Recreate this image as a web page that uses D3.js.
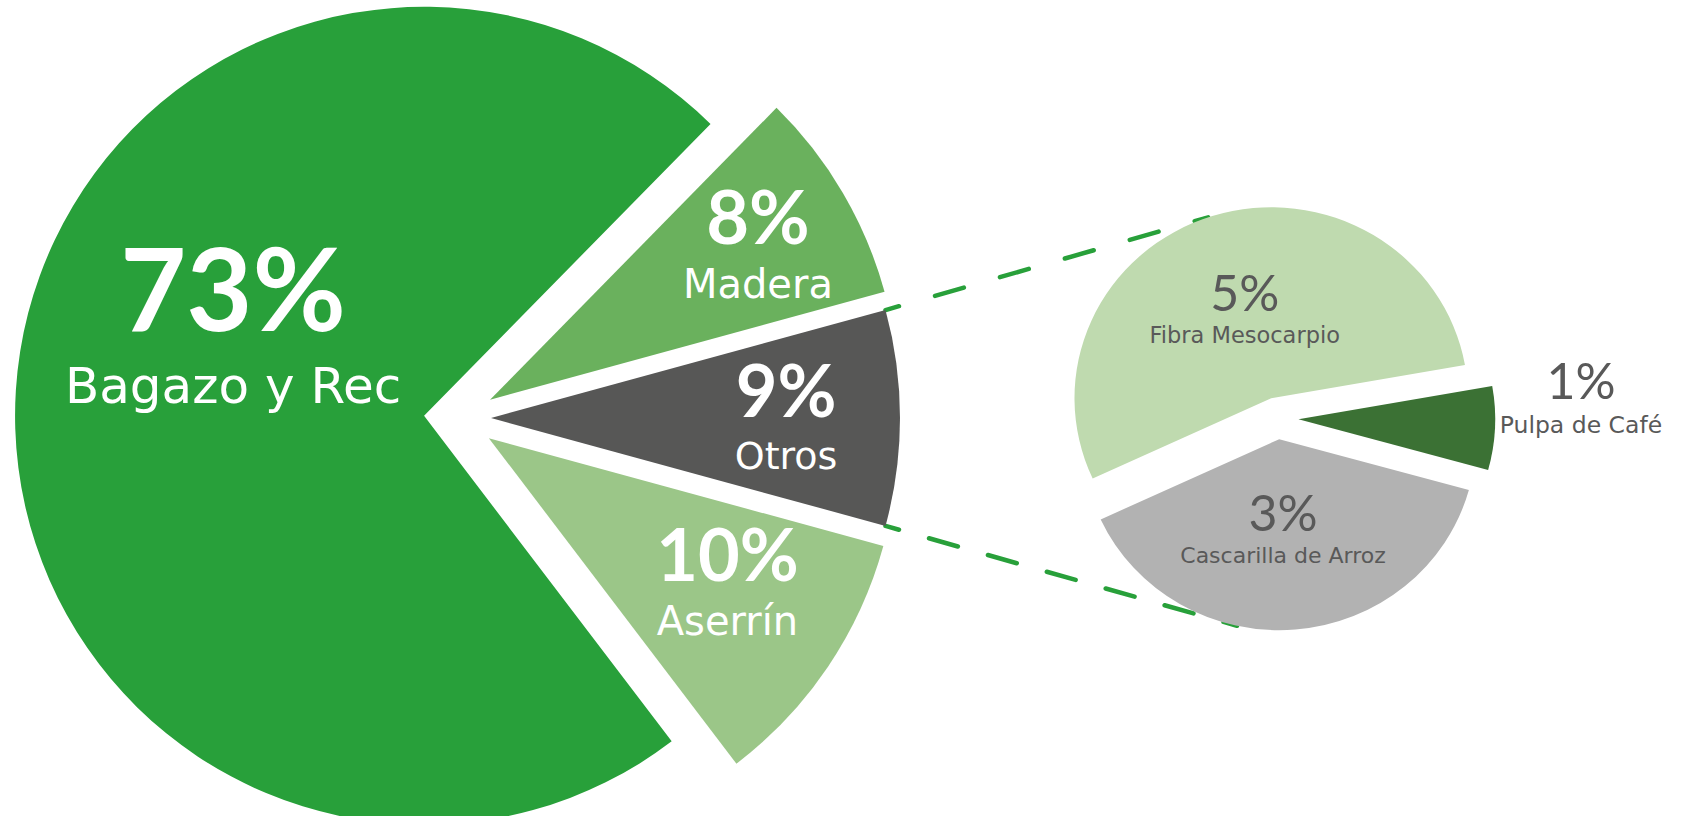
<!DOCTYPE html>
<html>
<head>
<meta charset="utf-8">
<script src="https://cdn.jsdelivr.net/npm/d3@7"></script>
<style>
  html, body { margin: 0; padding: 0; background: #ffffff; }
  svg { display: block; }
</style>
</head>
<body>
<svg id="chart"></svg>
<script>
// ---------------- data ----------------
const mainCategories = ["Madera", "Otros", "Aserrín", "Bagazo y Rec"];
const mainValues     = [8.4, 8.5, 10.4, 72.7];           // percent of total
const otherCategory  = "Otros";                          // slice broken out in the second pie

const subCategories  = ["Pulpa de Café", "Cascarilla de Arroz", "Fibra Mesocarpio"];
const subValues      = [0.6, 3.3, 4.6];                  // percent of total (sum = Otros)

// ---------------- styles / layout ----------------
const mainColors = ["#6ab15d", "#575756", "#9bc688", "#28a03a"];
const subColors  = ["#3b7134", "#b2b2b2", "#bfdaaf"];
const lineColor  = "#28a03a";

const W = 1684, H = 816;
const deg = Math.PI / 180;

const mainGeom = { cx: 459, cy: 418, r: 409, xScale: 1, explode: [36, 32, 36, 35], centerDeg: 90 };
const subGeom  = { cx: 1277.5, cy: 418.3, r: 191, xScale: 1.03, explode: [21, 21, 21], centerDeg: 92.7 };
// where the dashed connectors meet the second pie (angle on the top / bottom slice)
const connectorEndDeg = { top: 341.3, bottom: 192.4 };
const dash = { len: 30, gap: 36, endPart: 14, width: 4.5 };

// label block centre: [angle offset from slice middle (deg), distance as fraction of radius]
const mainLabelPlace = [[4.7, 0.727], [4.8, 0.724], [1.4, 0.716], [10.7, 0.482]];
const subLabelPlace  = [[-3.35, 1.479], [2.7, 0.567], [-3.1, 0.396]];
const mainPctSize  = [74, 72, 72, 114];
const mainNameSize = [40, 38, 40, 50];
const mainGap      = [54, 52, 54, 72];
const subPctSize   = [50, 50, 50];
const subNameSize  = [23.5, 22, 22.5];
const subGap       = [34, 32, 32];

const svg = d3.select("#chart").attr("width", W).attr("height", H);

function layout(values, centerIndex, centerDeg) {
  const total = d3.sum(values);
  const before = d3.sum(values.slice(0, centerIndex)) + values[centerIndex] / 2;
  const start = centerDeg * deg - before / total * 2 * Math.PI;
  return d3.pie().sort(null).startAngle(start).endAngle(start + 2 * Math.PI)(values);
}
function polar(c, a, d, sx = 1) { return [c[0] + sx * d * Math.sin(a), c[1] - d * Math.cos(a)]; }
function mid(s) { return (s.startAngle + s.endAngle) / 2; }

const otherIdx = mainCategories.indexOf(otherCategory);
const mainArcs = layout(mainValues, otherIdx, mainGeom.centerDeg);
const subArcs  = layout(subValues, 0, subGeom.centerDeg);

const mainApex = mainArcs.map((s, i) => polar([mainGeom.cx, mainGeom.cy], mid(s), mainGeom.explode[i]));
const subApex  = subArcs.map((s, i) => polar([subGeom.cx, subGeom.cy], mid(s), subGeom.explode[i]));

// ---------------- connector lines ----------------
function sliceContaining(arcs, a) {
  const TWO = 2 * Math.PI;
  return arcs.findIndex(s => {
    let x = a;
    while (x < s.startAngle) x += TWO;
    while (x > s.startAngle + TWO) x -= TWO;
    return x >= s.startAngle && x <= s.endAngle;
  });
}
const oArc = mainArcs[otherIdx];
const oStart = polar(mainApex[otherIdx], oArc.startAngle, mainGeom.r);
const oEnd   = polar(mainApex[otherIdx], oArc.endAngle, mainGeom.r);
const topIdx = sliceContaining(subArcs, 0);
const botIdx = sliceContaining(subArcs, Math.PI);
const eTop = polar(subApex[topIdx], connectorEndDeg.top * deg, subGeom.r, subGeom.xScale);
const eBot = polar(subApex[botIdx], connectorEndDeg.bottom * deg, subGeom.r, subGeom.xScale);

const lines = svg.append("g").attr("class", "connectors");
[[oStart, eTop], [oEnd, eBot]].forEach(seg => {
  const L = Math.hypot(seg[1][0] - seg[0][0], seg[1][1] - seg[0][1]);
  // short dash at both ends, full dashes between, gaps stretched to fit
  const p = dash.endPart, d = dash.len;
  const n = Math.max(1, Math.round((L - 2 * p + d) / (d + dash.gap)));
  const g = (L - 2 * p - (n - 1) * d) / n;
  lines.append("line")
    .attr("x1", seg[0][0]).attr("y1", seg[0][1])
    .attr("x2", seg[1][0]).attr("y2", seg[1][1])
    .attr("stroke", lineColor)
    .attr("stroke-width", dash.width)
    .attr("stroke-linecap", "round")
    .attr("stroke-dasharray", `${d} ${g}`)
    .attr("stroke-dashoffset", d - p);
});

// ---------------- pies ----------------
const mainArcGen = d3.arc().innerRadius(0).outerRadius(mainGeom.r);
const subArcGen  = d3.arc().innerRadius(0).outerRadius(subGeom.r);

svg.append("g").attr("class", "main-pie")
  .selectAll("path").data(mainArcs).join("path")
  .attr("transform", (d, i) => `translate(${mainApex[i][0]},${mainApex[i][1]}) scale(${mainGeom.xScale},1)`)
  .attr("d", mainArcGen)
  .attr("fill", (d, i) => mainColors[i]);

svg.append("g").attr("class", "sub-pie")
  .selectAll("path").data(subArcs).join("path")
  .attr("transform", (d, i) => `translate(${subApex[i][0]},${subApex[i][1]}) scale(${subGeom.xScale},1)`)
  .attr("d", subArcGen)
  .attr("fill", (d, i) => subColors[i]);

// ---------------- labels (percentage above, name below) ----------------
const pctText = v => Math.round(v) + "%";

function addLabel(g, p, pct, name, pctSize, nameSize, gap, pctWeight) {
  g.append("text")
    .attr("x", p[0]).attr("y", p[1] - gap / 2)
    .attr("font-family", "Lato, 'Open Sans', sans-serif")
    .attr("font-weight", pctWeight)
    .attr("font-size", pctSize)
    .text(pct);
  g.append("text")
    .attr("x", p[0]).attr("y", p[1] + gap / 2)
    .attr("font-family", "'DejaVu Sans', sans-serif")
    .attr("font-size", nameSize)
    .text(name);
}

const mainLabels = svg.append("g").attr("class", "main-labels")
  .attr("text-anchor", "middle").attr("fill", "#ffffff");
mainArcs.forEach((s, i) => {
  const p = polar(mainApex[i], mid(s) + mainLabelPlace[i][0] * deg, mainLabelPlace[i][1] * mainGeom.r);
  addLabel(mainLabels, p, pctText(mainValues[i]), mainCategories[i],
           mainPctSize[i], mainNameSize[i], mainGap[i], 700);
});

const subLabels = svg.append("g").attr("class", "sub-labels")
  .attr("text-anchor", "middle").attr("fill", "#595959");
subArcs.forEach((s, i) => {
  const p = polar(subApex[i], mid(s) + subLabelPlace[i][0] * deg, subLabelPlace[i][1] * subGeom.r);
  addLabel(subLabels, p, pctText(subValues[i]), subCategories[i],
           subPctSize[i], subNameSize[i], subGap[i], 400);
});
</script>
</body>
</html>
